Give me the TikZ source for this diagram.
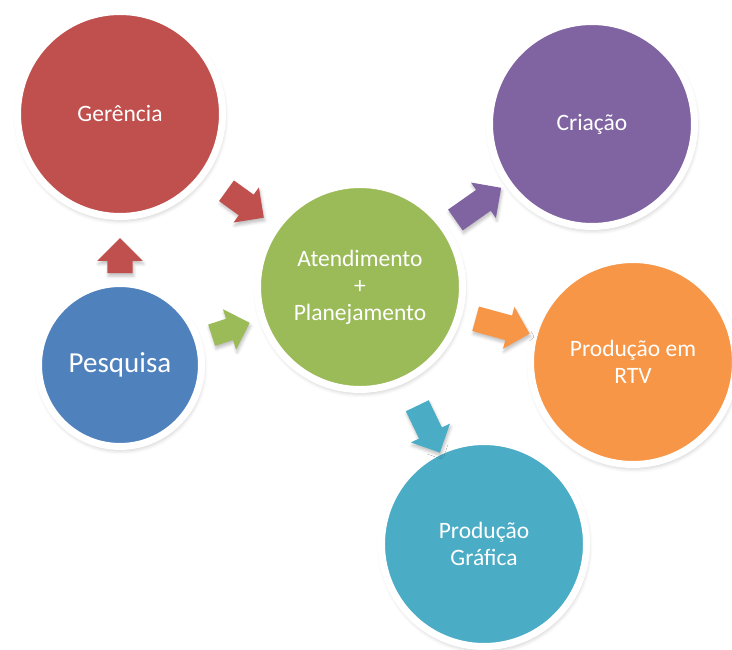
\documentclass[tikz,border=0pt]{standalone}
\usepackage{fontspec}
\setmainfont{Carlito}
\usetikzlibrary{shapes.arrows, shadows.blur}

\definecolor{vermelho}{HTML}{C0504D}
\definecolor{verde}{HTML}{9BBB59}
\definecolor{azul}{HTML}{4F81BD}
\definecolor{roxo}{HTML}{8064A2}
\definecolor{laranja}{HTML}{F79646}
\definecolor{turquesa}{HTML}{4BACC6}

\begin{document}
\begin{tikzpicture}[x=1pt, y=1pt,
	circulo/.style={circle, draw=white, line width=7pt, minimum size=205pt, fill=#1,
		text=white, align=center, font=\fontsize{23.5}{27}\selectfont,
		blur shadow={shadow xshift=1pt, shadow yshift=-3pt, shadow blur radius=5pt, shadow opacity=30}},
	seta/.style={single arrow, draw=none, fill=#1, minimum height=52pt,
		inner xsep=0pt, inner ysep=12.5pt, single arrow head extend=9pt,
		sloped, allow upside down,
		blur shadow={shadow xshift=1pt, shadow yshift=-3pt, shadow blur radius=3pt, shadow opacity=25}}
	]
	% Размер рисунка
	\useasboundingbox (0,0) rectangle (732,-650);
	
	% Круги
	\node[circulo=vermelho] (ger) at (120,-114) {Gerência};
	\node[circulo=verde] (atend) at (360,-287) {Atendimento\\+\\Planejamento};
	\node[circulo=roxo] (cria) at (592,-124) {Criação};
	\node[circulo=azul, minimum size=163pt, font=\fontsize{29}{33}\selectfont] (pesq) at (120,-365) {Pesquisa};
	\node[circulo=laranja] (rtv) at (633,-362) {Produção em\\RTV};
	\node[circulo=turquesa] (graf) at (484,-544) {Produção\\Gráfica};
	
	% Стрелки между кругами
	\path (pesq) -- (ger) node[pos=0.3, seta=vermelho, minimum height=35pt, single arrow head extend=10pt] {};
	\path (ger) -- (atend) node[midway, seta=vermelho, minimum height=46pt] {};
	\path (pesq) -- (atend) node[pos=0.42, seta=verde, minimum height=40pt, inner ysep=11pt, single arrow head extend=10pt] {};
	\path (atend) -- (cria) node[pos=0.45, seta=roxo, minimum height=56pt] {};
	\path (atend) -- (rtv) node[midway, seta=laranja, minimum height=56pt] {};
	\path (atend) -- (graf) node[pos=0.62, seta=turquesa, minimum height=52pt] {};
\end{tikzpicture}
\end{document}
